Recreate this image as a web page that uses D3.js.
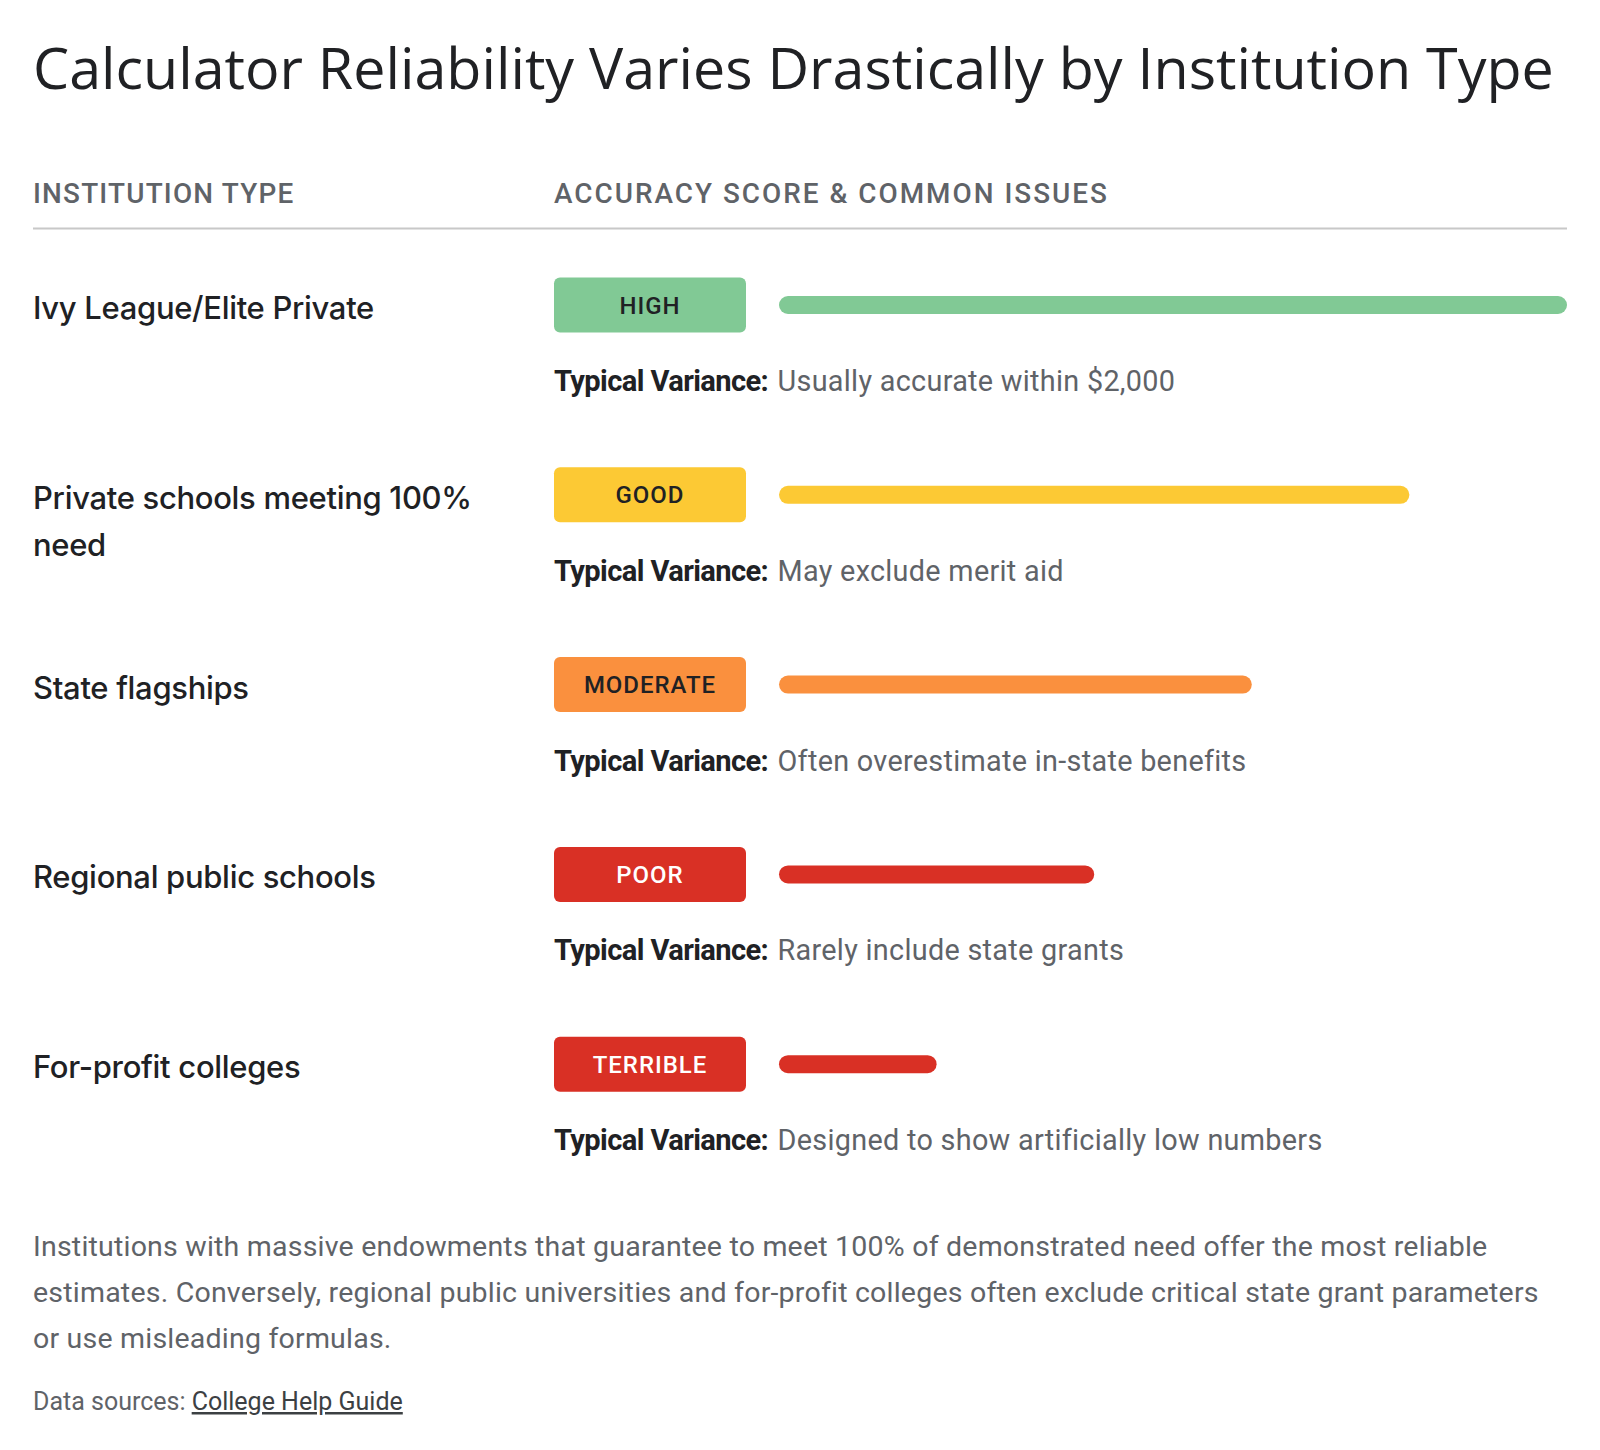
<!DOCTYPE html>
<html><head><meta charset="utf-8">
<script src="https://cdn.jsdelivr.net/npm/d3@7"></script>
<style>body{margin:0;background:#fff}svg{display:block}</style>
</head><body><svg id="c" width="1600" height="1450"></svg>
<script>
const titleText = "Calculator Reliability Varies Drastically by Institution Type";
const headers = ["INSTITUTION TYPE", "ACCURACY SCORE & COMMON ISSUES"];
const institutions = ["Ivy League/Elite Private", "Private schools meeting 100% need", "State flagships", "Regional public schools", "For-profit colleges"];
const ratings = ["HIGH", "GOOD", "MODERATE", "POOR", "TERRIBLE"];
const scores = [100, 80, 60, 40, 20];
const variances = ["Usually accurate within $2,000", "May exclude merit aid", "Often overestimate in-state benefits", "Rarely include state grants", "Designed to show artificially low numbers"];
const ratingColors = ["#81c995", "#fcc934", "#fa903e", "#d93025", "#d93025"];
const ratingTextColors = ["#202124", "#202124", "#202124", "#ffffff", "#ffffff"];
const footnoteLines = [
  "Institutions with massive endowments that guarantee to meet 100% of demonstrated need offer the most reliable",
  "estimates. Conversely, regional public universities and for-profit colleges often exclude critical state grant parameters",
  "or use misleading formulas."
];
const sourceLabel = "Data sources: ";
const sourceLink = "College Help Guide";

const svg = d3.select("#c");
const L = 33, R = 1567, colX = 554;

function fit(sel, target) {
  const w = sel.node().getComputedTextLength();
  const s = parseFloat(sel.attr("font-size"));
  const ns = s * target / w;
  sel.attr("font-size", ns);
  return ns;
}

// Title
const t = svg.append("text").attr("x", L).attr("y", 89)
  .attr("font-family", "'Open Sans', Roboto, sans-serif").attr("font-size", 58)
  .attr("fill", "#202124").text(titleText);
fit(t, 1521);

// Headers
const h1 = svg.append("text").attr("x", L).attr("y", 203)
  .attr("font-family", "Roboto, sans-serif").attr("font-weight", 500)
  .attr("font-size", 26).attr("letter-spacing", 1.2).attr("fill", "#5f6368").text(headers[0]);
const hs = fit(h1, 263);
const h2 = svg.append("text").attr("x", colX).attr("y", 203)
  .attr("font-family", "Roboto, sans-serif").attr("font-weight", 500)
  .attr("font-size", hs).attr("letter-spacing", 1.2).attr("fill", "#5f6368").text(headers[1]);
{
  const w2 = h2.node().getComputedTextLength();
  const extra = (555 - w2) / headers[1].length;
  h2.attr("letter-spacing", 1.2 + extra);
}

svg.append("line").attr("x1", L).attr("x2", R).attr("y1", 228.5).attr("y2", 228.5)
  .attr("stroke", "#c8c8c8").attr("stroke-width", 2);

// Scales
const y = d3.scaleBand().domain(d3.range(institutions.length)).range([277.5, 277.5 + 189.8 * institutions.length]);
const x = d3.scaleLinear().domain([0, 100]).range([0, R - 779]);

const badgeW = 192, badgeH = 55;
const rows = svg.selectAll("g.row").data(institutions).join("g").attr("class", "row")
  .attr("transform", (d, i) => `translate(0,${y(i)})`);

// Row labels with wrapping
let labelSize = null;
rows.each(function (d, i) {
  const g = d3.select(this);
  const txt = g.append("text").attr("x", L).attr("y", 41.5)
    .attr("font-family", "Inter, sans-serif").attr("font-weight", 500)
    .attr("font-size", 30).attr("fill", "#202124").attr("letter-spacing", -0.3);
  if (labelSize === null) {
    txt.text(institutions[0]);
    labelSize = fit(txt, 341);
    txt.text("");
  }
  txt.attr("font-size", labelSize);
  const words = d.split(" ");
  let line = [];
  let tsp = txt.append("tspan").attr("x", L).attr("dy", 0);
  words.forEach(w => {
    line.push(w);
    tsp.text(line.join(" "));
    if (tsp.node().getComputedTextLength() > 470 && line.length > 1) {
      line.pop();
      tsp.text(line.join(" "));
      line = [w];
      tsp = txt.append("tspan").attr("x", L).attr("dy", 47).text(w);
    }
  });
});

// Badges
rows.append("rect").attr("x", colX).attr("y", 0).attr("width", badgeW).attr("height", badgeH)
  .attr("rx", 6).attr("fill", (d, i) => ratingColors[i]);
const bl = rows.append("text").attr("x", colX + badgeW / 2).attr("y", badgeH / 2)
  .attr("dy", "0.36em").attr("text-anchor", "middle")
  .attr("font-family", "Roboto, sans-serif").attr("font-weight", 500)
  .attr("font-size", 22).attr("letter-spacing", 1)
  .attr("fill", (d, i) => ratingTextColors[i]).text((d, i) => ratings[i]);
const bs = fit(d3.select(bl.nodes()[2]), 133);
bl.attr("font-size", bs);

// Bars
rows.append("rect").attr("x", 779).attr("y", badgeH / 2 - 9)
  .attr("width", (d, i) => x(scores[i])).attr("height", 18).attr("rx", 9)
  .attr("fill", (d, i) => ratingColors[i]);

// Variance text
let vlSize = null, vvSize = null;
rows.each(function (d, i) {
  const g = d3.select(this);
  const lab = g.append("text").attr("x", colX).attr("y", 113.5)
    .attr("font-family", "Roboto, sans-serif").attr("font-weight", 700)
    .attr("font-size", 26).attr("letter-spacing", -0.6).attr("fill", "#202124").text("Typical Variance:");
  if (vlSize === null) vlSize = fit(lab, 213); else lab.attr("font-size", vlSize);
  const val = g.append("text").attr("x", 777.5).attr("y", 113.5)
    .attr("font-family", "Roboto, sans-serif").attr("font-weight", 400)
    .attr("font-size", 26).attr("letter-spacing", 0.3).attr("fill", "#5f6368").text(variances[i]);
  if (vvSize === null) vvSize = fit(val, 399); else val.attr("font-size", vvSize);
});

// Footnote
let fSize = null;
footnoteLines.forEach((ln, i) => {
  const ft = svg.append("text").attr("x", L).attr("y", 1256 + i * 46)
    .attr("font-family", "Roboto, sans-serif").attr("font-size", 26)
    .attr("letter-spacing", 0.2).attr("fill", "#5f6368").text(ln);
  if (fSize === null) fSize = fit(ft, 1457); else ft.attr("font-size", fSize);
});

const src = svg.append("text").attr("x", L).attr("y", 1410)
  .attr("font-family", "Roboto, sans-serif").attr("font-size", 22).attr("fill", "#5f6368");
src.append("tspan").text(sourceLabel);
src.append("tspan").attr("text-decoration", "underline").attr("fill", "#3c4043").text(sourceLink);
fit(src, 370);
</script></body></html>
